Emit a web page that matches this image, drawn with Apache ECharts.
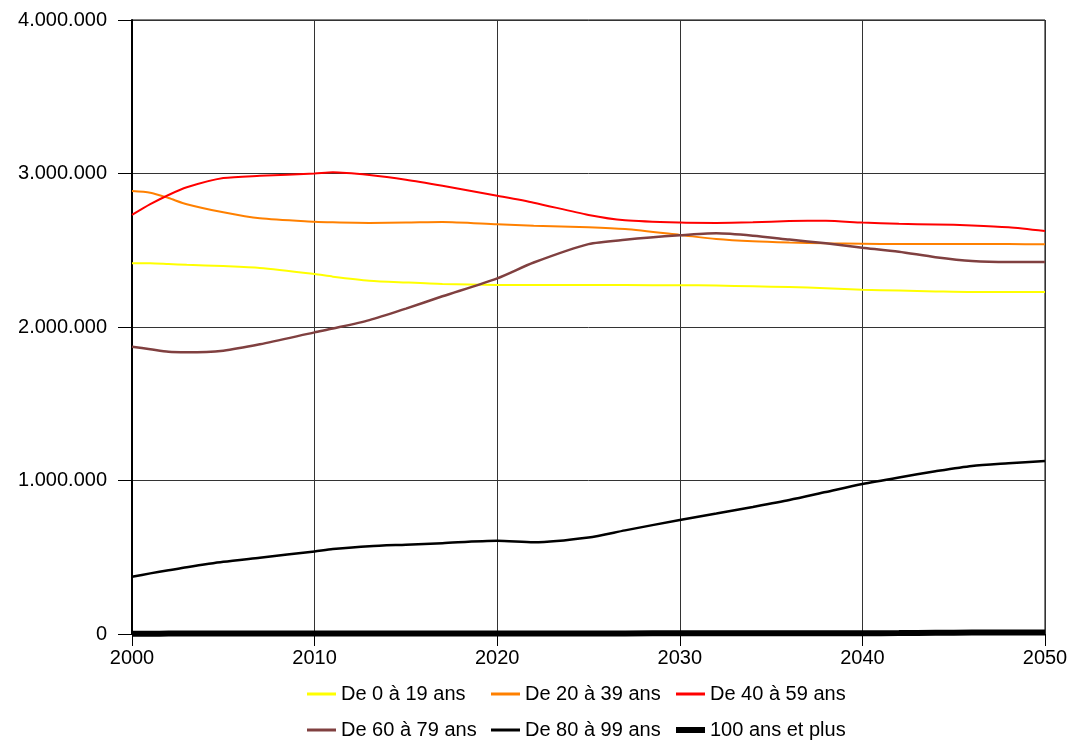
<!DOCTYPE html>
<html>
<head>
<meta charset="utf-8">
<script src="https://cdn.jsdelivr.net/npm/echarts@6/dist/echarts.min.js"></script>
<style>
html,body{margin:0;padding:0;background:#fff;}
#chart{width:1072px;height:743px;}
</style>
</head>
<body>
<div id="chart"></div>
<script>
// ---- Data ----
const years = [2000, 2001, 2002, 2003, 2005, 2007, 2010, 2011, 2013, 2015, 2017, 2020, 2022, 2025, 2027, 2030, 2032, 2034, 2036, 2038, 2040, 2042, 2044, 2046, 2048, 2050];

const seriesNames = ["De 0 à 19 ans", "De 20 à 39 ans", "De 40 à 59 ans", "De 60 à 79 ans", "De 80 à 99 ans", "100 ans et plus"];

const age0_19 = [2415000, 2415000, 2410000, 2405000, 2397000, 2385000, 2345000, 2328000, 2302000, 2290000, 2280000, 2274000, 2273000, 2273000, 2273000, 2272000, 2270000, 2265000, 2260000, 2253000, 2243000, 2237000, 2232000, 2228000, 2228000, 2228000];
const age20_39 = [2886000, 2875000, 2840000, 2800000, 2747000, 2708000, 2686000, 2682000, 2678000, 2680000, 2684000, 2669000, 2660000, 2650000, 2638000, 2600000, 2573000, 2558000, 2550000, 2545000, 2543000, 2540000, 2540000, 2540000, 2540000, 2539000];
const age40_59 = [2730000, 2800000, 2860000, 2910000, 2970000, 2985000, 3000000, 3008000, 2990000, 2960000, 2920000, 2855000, 2810000, 2730000, 2695000, 2680000, 2678000, 2682000, 2690000, 2692000, 2680000, 2672000, 2668000, 2662000, 2650000, 2625000];
const age60_79 = [1872000, 1855000, 1838000, 1835000, 1846000, 1887000, 1965000, 1990000, 2045000, 2120000, 2200000, 2317000, 2420000, 2540000, 2568000, 2597000, 2610000, 2595000, 2570000, 2545000, 2517000, 2490000, 2455000, 2430000, 2423000, 2423000];
const age80_99 = [373000, 395000, 415000, 435000, 470000, 497000, 538000, 553000, 572000, 582000, 592000, 607000, 597000, 628000, 675000, 743000, 785000, 828000, 873000, 925000, 977000, 1020000, 1060000, 1095000, 1112000, 1127000];
const age100 = [2000, 2000, 2500, 2500, 3000, 3000, 3500, 3500, 3500, 3500, 3500, 3000, 3000, 4000, 4000, 4500, 4500, 5000, 5000, 5000, 5500, 6000, 8000, 9500, 9000, 10000];

const xTicks = [2000, 2010, 2020, 2030, 2040, 2050];
const yTicks = [0, 1000000, 2000000, 3000000, 4000000];

// ---- Chart ----
const colors = ["#FFFF00", "#FF8000", "#FF0000", "#804040", "#000000", "#000000"];
const widths = [2, 2, 2, 2.5, 2.5, 6];
const allValues = [age0_19, age20_39, age40_59, age60_79, age80_99, age100];

function fmtDots(v) {
  return String(Math.round(v)).replace(/\B(?=(\d{3})+(?!\d))/g, ".");
}

const series = allValues.map((vals, i) => ({
  name: seriesNames[i],
  type: "line",
  data: years.map((y, k) => [y, vals[k]]),
  smooth: 0.25,
  symbol: "none",
  showSymbol: false,
  silent: true,
  z: i === 5 ? 3 : 2,
  lineStyle: { color: colors[i], width: widths[i] },
  itemStyle: { color: colors[i] }
}));

const legendFont = { fontSize: 20, color: "#000", fontFamily: "Liberation Sans, Arial, sans-serif", lineHeight: 22 };
const colX = [307, 491, 676];
const rowY = [683, 719];
const legends = seriesNames.map((n, i) => ({
  data: [n],
  left: colX[i % 3],
  top: rowY[Math.floor(i / 3)],
  orient: "horizontal",
  padding: 0,
  icon: "rect",
  itemWidth: 29,
  itemHeight: i === 5 ? 6 : 3,
  textStyle: legendFont,
  selectedMode: false
}));

const chart = echarts.init(document.getElementById("chart"), null, { renderer: "canvas" });
chart.setOption({
  animation: false,
  backgroundColor: "#fff",
  color: colors,
  legend: legends,
  grid: {
    left: 132, right: 27, top: 20, bottom: 109,
    containLabel: false,
    show: true, borderColor: "#000", borderWidth: 1
  },
  xAxis: {
    type: "value",
    min: 2000, max: 2050, interval: 10,
    axisLine: { show: true, onZero: false, lineStyle: { color: "#000", width: 1 } },
    axisTick: { show: true, length: 12, lineStyle: { color: "#000" } },
    axisLabel: {
      margin: 14, fontSize: 20, color: "#000",
      fontFamily: "Liberation Sans, Arial, sans-serif",
      formatter: v => (xTicks.includes(v) ? String(v) : "")
    },
    splitLine: { show: true, lineStyle: { color: "#333", width: 1 } }
  },
  yAxis: {
    type: "value",
    min: 0, max: 4000000, interval: 1000000,
    axisLine: { show: true, lineStyle: { color: "#000", width: 2 } },
    axisTick: { show: true, length: 14, lineStyle: { color: "#000" } },
    axisLabel: {
      margin: 25, fontSize: 20, color: "#000",
      fontFamily: "Liberation Sans, Arial, sans-serif",
      formatter: v => (yTicks.includes(v) ? fmtDots(v) : "")
    },
    splitLine: { show: true, lineStyle: { color: "#333", width: 1 } }
  },
  series: series
});
</script>
</body>
</html>
